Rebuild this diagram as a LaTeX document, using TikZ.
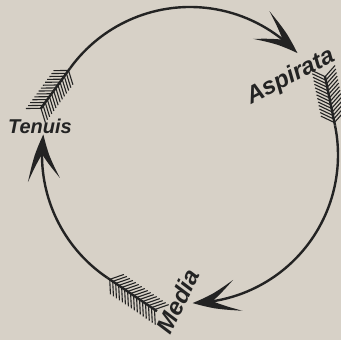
\documentclass[tikz,border=0pt]{standalone}
\usepackage{fontspec}
\newfontfamily\letterfont{Liberation Sans}
\usetikzlibrary{arrows.meta, bending}

\definecolor{paper}{RGB}{215,209,199}
\definecolor{ink}{RGB}{35,35,35}

\begin{document}
\begin{tikzpicture}[x=0.5pt, y=0.5pt,
  ring/.style={ink, line width=1.2pt,
    -{Stealth[length=23pt, width=16pt, inset=13pt, line width=0.8pt, bend]}},
  shaft/.style={ink, line width=1.2pt},
  feather/.style={ink, line width=0.55pt},
  lettering/.style={ink, inner sep=0pt,
    font=\letterfont\bfseries\itshape\fontsize{#1}{#1}\selectfont},
  lettering/.default=12]
\def\R{148}
\fill[paper] (-190,-185) rectangle (151,155);
\useasboundingbox (-190,-185) rectangle (151,155);
% where each arc leaves its fletching
\coordinate (J1) at (144:\R);
\coordinate (J2) at (11.5:\R);
\coordinate (J3) at (236:\R);
\draw[ring] (J1) arc[start angle=144, end angle=43.5, radius=\R];
\draw[ring] (J2) arc[start angle=11.5, end angle=-89, radius=\R];
\draw[ring] (J3) arc[start angle=236, end angle=172, radius=\R];
% fletchings, straight and tangent to the ring
\foreach \ang/\len in {144/50, 11.5/50, 236/60}{
  \begin{scope}[rotate=\ang]
    \draw[shaft] (\R,0) -- (\R,\len);
    \foreach \s in {3,6.6,...,\len}{
      \draw[feather] (\R,\s) -- ++(12,9);
      \draw[feather] (\R,\s) -- ++(-12,9);
    }
  \end{scope}
}
\node[lettering=10] (tenuis) at (-150,29) {Tenuis};
\node[lettering, rotate=27] (aspirata) at (101,78) {Aspirata};
\node[lettering, rotate=64] (media) at (-12,-146) {Media};
\end{tikzpicture}
\end{document}
